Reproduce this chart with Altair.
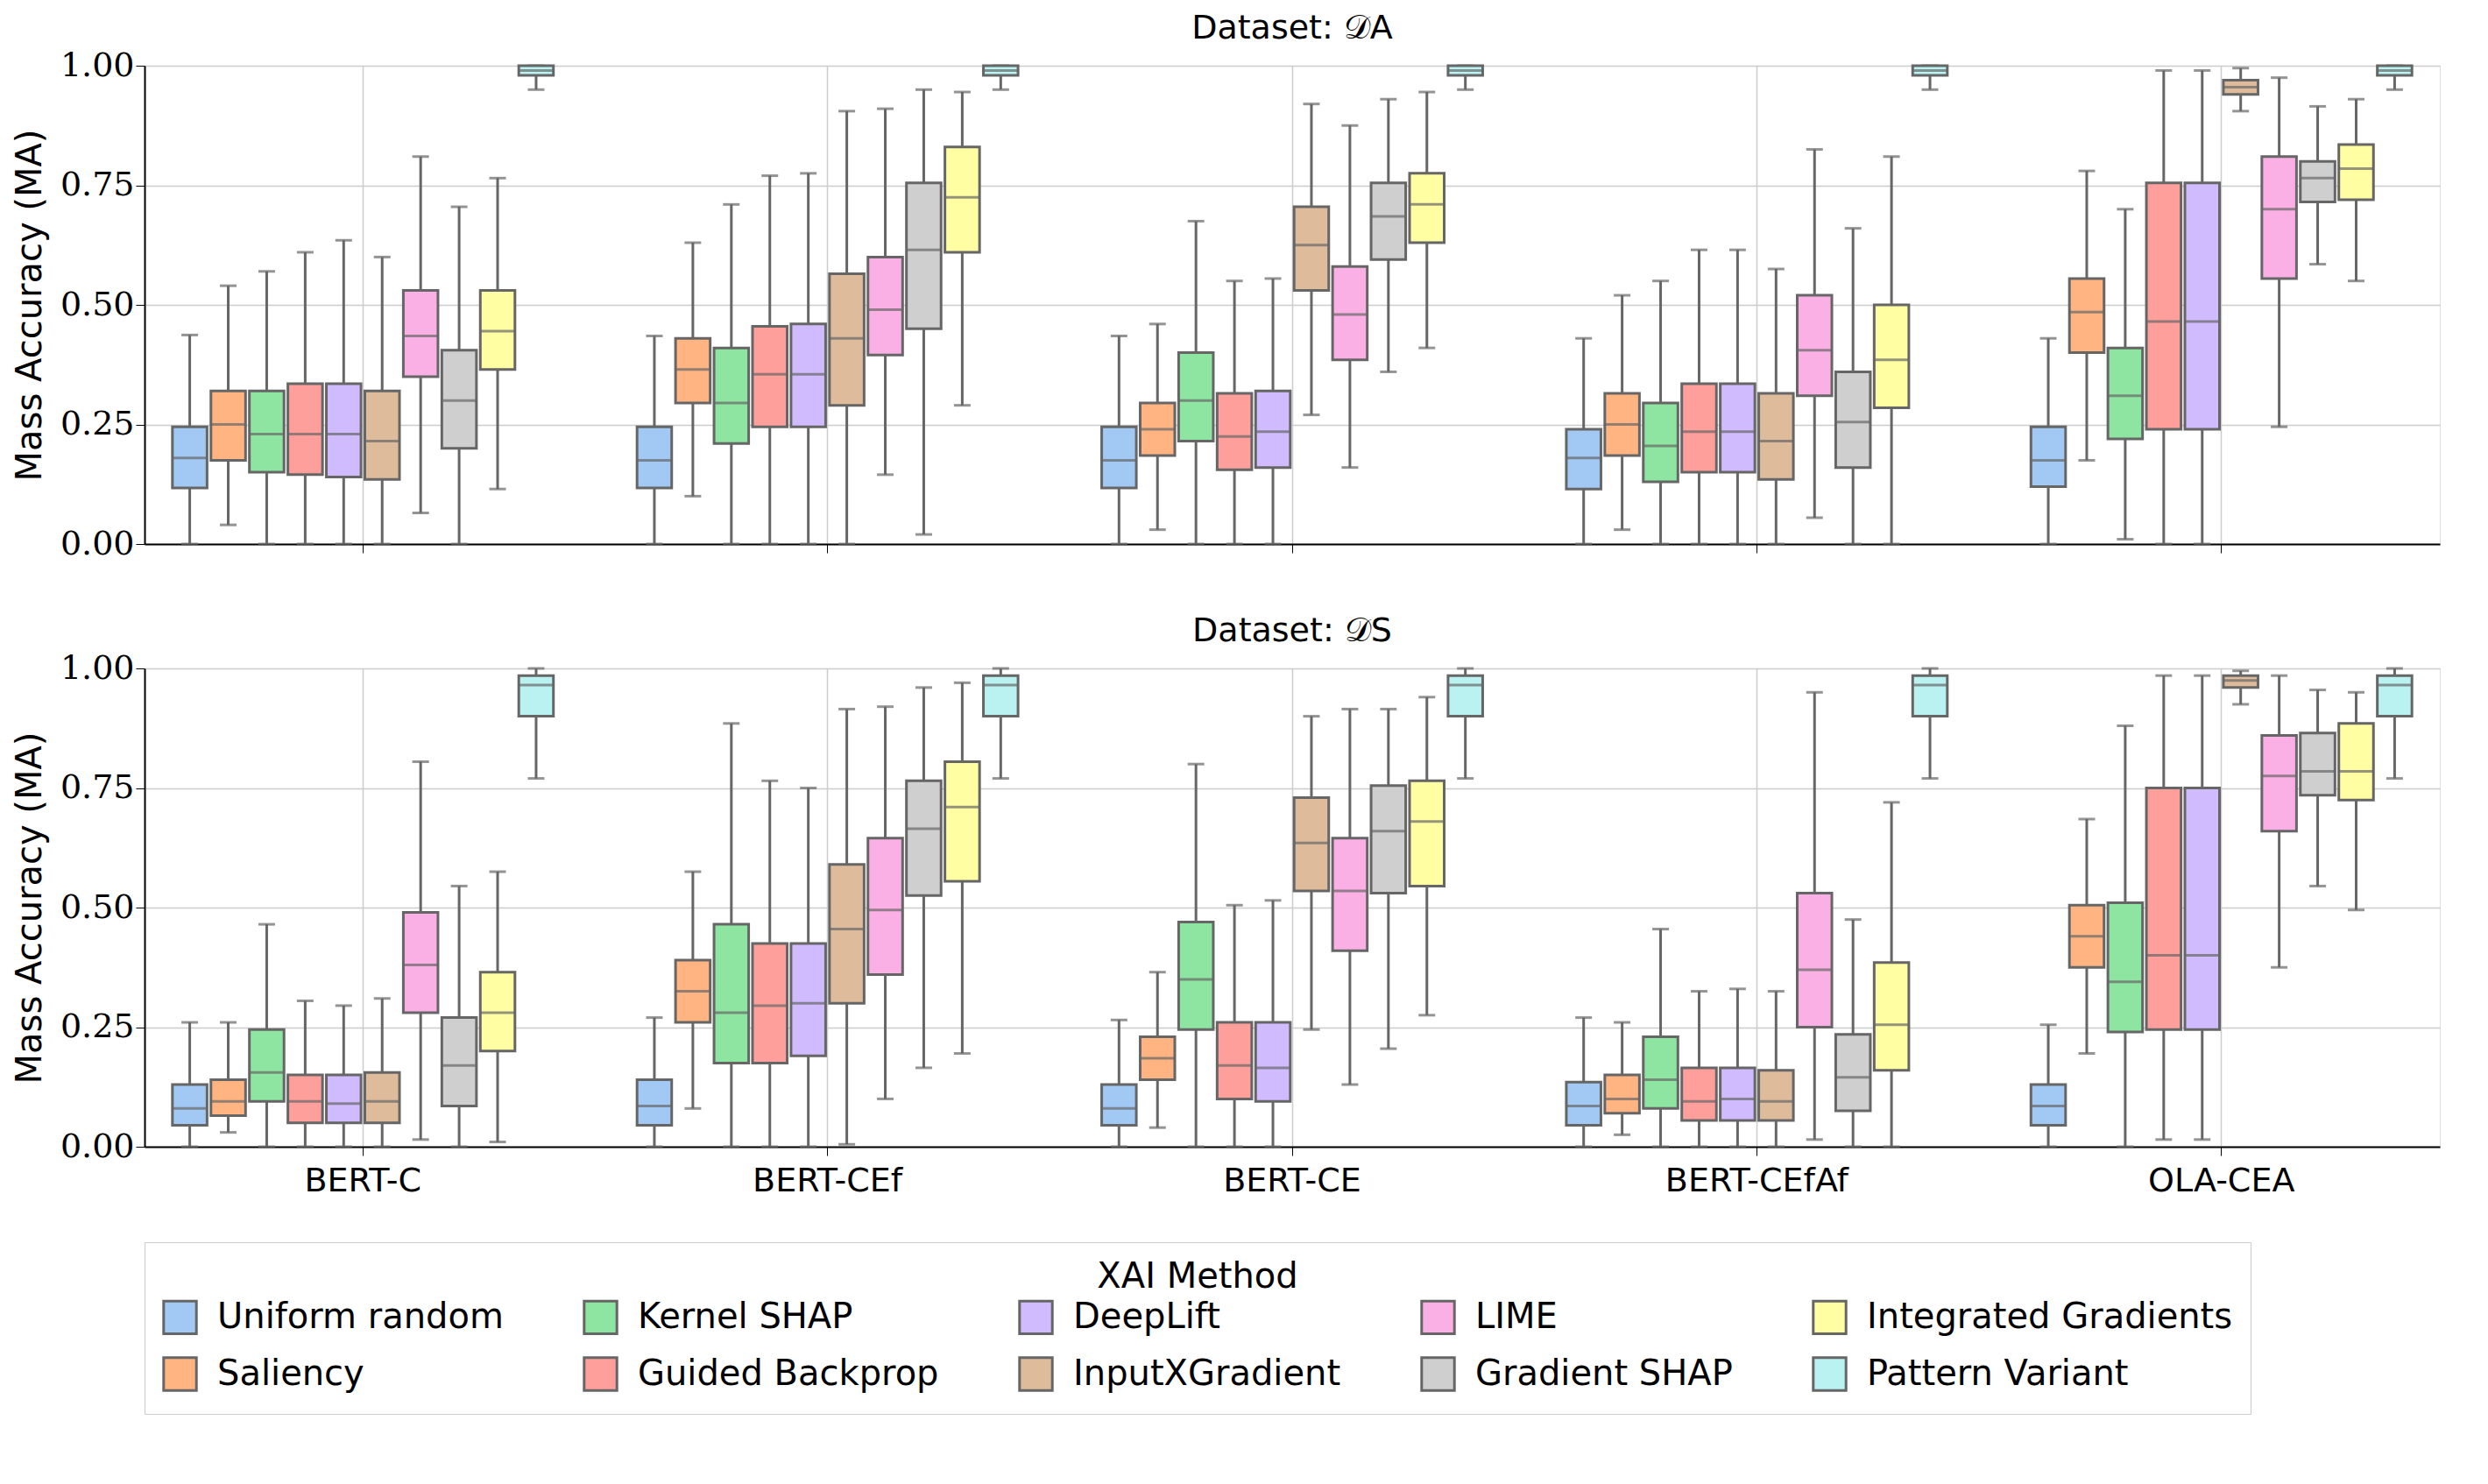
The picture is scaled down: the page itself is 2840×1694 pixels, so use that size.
import altair as alt
import pandas

models = ["BERT-C", "BERT-CEf", "BERT-CE", "BERT-CEfAf", "OLA-CEA"]
methods = ["Uniform random", "Saliency", "Kernel SHAP", "Guided Backprop", "DeepLift",
           "InputXGradient", "LIME", "Gradient SHAP", "Integrated Gradients", "Pattern Variant"]
colors = ["#a1c9f4", "#ffb482", "#8de5a1", "#ff9f9b", "#d0bbff",
          "#debb9b", "#fab0e4", "#cfcfcf", "#fffea3", "#b9f2f0"]

# (min, q1, median, q3, max) per method, per model
stats_a = {
    "BERT-C": [(0, .117, .18, .245, .437), (.04, .175, .25, .32, .54), (0, .15, .23, .32, .57),
               (0, .145, .23, .335, .61), (0, .14, .23, .335, .635), (0, .135, .215, .32, .60),
               (.065, .35, .435, .53, .81), (0, .20, .30, .405, .705), (.115, .365, .445, .53, .765),
               (.95, .98, .99, 1.0, 1.0)],
    "BERT-CEf": [(0, .117, .175, .245, .435), (.10, .295, .365, .43, .63), (0, .21, .295, .41, .71),
                 (0, .245, .355, .455, .77), (0, .245, .355, .46, .775), (0, .29, .43, .565, .905),
                 (.145, .395, .49, .60, .91), (.02, .45, .615, .755, .95), (.29, .61, .725, .83, .945),
                 (.95, .98, .99, 1.0, 1.0)],
    "BERT-CE": [(0, .117, .175, .245, .435), (.03, .185, .24, .295, .46), (0, .215, .30, .40, .675),
                (0, .155, .225, .315, .55), (0, .16, .235, .32, .555), (.27, .53, .625, .705, .92),
                (.16, .385, .48, .58, .875), (.36, .595, .685, .755, .93), (.41, .63, .71, .775, .945),
                (.95, .98, .99, 1.0, 1.0)],
    "BERT-CEfAf": [(0, .115, .18, .24, .43), (.03, .185, .25, .315, .52), (0, .13, .205, .295, .55),
                   (0, .15, .235, .335, .615), (0, .15, .235, .335, .615), (0, .135, .215, .315, .575),
                   (.055, .31, .405, .52, .825), (0, .16, .255, .36, .66), (0, .285, .385, .50, .81),
                   (.95, .98, .99, 1.0, 1.0)],
    "OLA-CEA": [(0, .12, .175, .245, .43), (.175, .40, .485, .555, .78), (.01, .22, .31, .41, .70),
                (0, .24, .465, .755, .99), (0, .24, .465, .755, .99), (.905, .94, .955, .97, .995),
                (.245, .555, .70, .81, .975), (.585, .715, .765, .80, .915), (.55, .72, .785, .835, .93),
                (.95, .98, .99, 1.0, 1.0)],
}
stats_s = {
    "BERT-C": [(0, .045, .08, .13, .26), (.03, .065, .095, .14, .26), (0, .095, .155, .245, .465),
               (0, .05, .095, .15, .305), (0, .05, .09, .15, .295), (0, .05, .095, .155, .31),
               (.015, .28, .38, .49, .805), (0, .085, .17, .27, .545), (.01, .20, .28, .365, .575),
               (.77, .90, .965, .985, 1.0)],
    "BERT-CEf": [(0, .045, .085, .14, .27), (.08, .26, .325, .39, .575), (0, .175, .28, .465, .885),
                 (0, .175, .295, .425, .765), (0, .19, .30, .425, .75), (.005, .30, .455, .59, .915),
                 (.10, .36, .495, .645, .92), (.165, .525, .665, .765, .96), (.195, .555, .71, .805, .97),
                 (.77, .90, .965, .985, 1.0)],
    "BERT-CE": [(0, .045, .08, .13, .265), (.04, .14, .185, .23, .365), (0, .245, .35, .47, .80),
                (0, .10, .17, .26, .505), (0, .095, .165, .26, .515), (.245, .535, .635, .73, .90),
                (.13, .41, .535, .645, .915), (.205, .53, .66, .755, .915), (.275, .545, .68, .765, .94),
                (.77, .90, .965, .985, 1.0)],
    "BERT-CEfAf": [(0, .045, .085, .135, .27), (.025, .07, .10, .15, .26), (0, .08, .14, .23, .455),
                   (0, .055, .095, .165, .325), (0, .055, .10, .165, .33), (0, .055, .095, .16, .325),
                   (.015, .25, .37, .53, .95), (0, .075, .145, .235, .475), (0, .16, .255, .385, .72),
                   (.77, .90, .965, .985, 1.0)],
    "OLA-CEA": [(0, .045, .085, .13, .255), (.195, .375, .44, .505, .685), (0, .24, .345, .51, .88),
                (.015, .245, .40, .75, .985), (.015, .245, .40, .75, .985), (.925, .96, .975, .985, .995),
                (.375, .66, .775, .86, .985), (.545, .735, .785, .865, .955), (.495, .725, .785, .885, .95),
                (.77, .90, .965, .985, 1.0)],
}

# legend fills row by row; reference fills column by column
legend_order = [methods[i] for i in (0, 2, 4, 6, 8, 1, 3, 5, 7, 9)]
legend_colors = [colors[i] for i in (0, 2, 4, 6, 8, 1, 3, 5, 7, 9)]

EDGE = "#666666"


def to_df(stats):
    rows = []
    for m in models:
        for meth, (lo, q1, med, q3, hi) in zip(methods, stats[m]):
            rows.append(dict(model=m, method=meth, lo=lo, q1=q1, med=med, q3=q3, hi=hi))
    return pandas.DataFrame(rows)


def panel(stats, title, show_labels):
    df = to_df(stats)
    x = alt.X("model:N", sort=models, title=None,
              scale=alt.Scale(paddingInner=0.18, paddingOuter=0.06),
              axis=alt.Axis(labels=show_labels, labelFontSize=38, labelAngle=0, labelLimit=600,
                            labelFont="DejaVu Sans", labelColor="black", labelPadding=10,
                            tickColor="black", tickSize=10, domainColor="black",
                            domainWidth=2, grid=True, gridColor="#cccccc", gridWidth=1.5))
    xo = alt.XOffset("method:N", sort=methods, scale=alt.Scale(paddingInner=0.1))
    y = alt.Y("lo:Q", title="Mass Accuracy (MA)",
              scale=alt.Scale(domain=[0, 1], nice=False),
              axis=alt.Axis(values=[0, .25, .5, .75, 1], format=".2f", labelFontSize=38,
                            labelFont="DejaVu Serif", labelColor="black", titleFontSize=40,
                            titleFont="DejaVu Sans", titleFontWeight="normal", titleColor="black",
                            tickColor="black", tickSize=10, domainColor="black", domainWidth=2,
                            gridColor="#cccccc", gridWidth=1.5, titlePadding=14))
    base = alt.Chart(df).encode(x=x, xOffset=xo)
    whisker = base.mark_rule(color=EDGE, strokeWidth=3).encode(y=y, y2="hi:Q")
    caps_lo = base.mark_tick(color=EDGE, size=19, thickness=3).encode(y="lo:Q")
    caps_hi = base.mark_tick(color=EDGE, size=19, thickness=3).encode(y="hi:Q")
    box = base.mark_bar(stroke=EDGE, strokeWidth=3).encode(
        y="q1:Q", y2="q3:Q",
        fill=alt.Fill("method:N", scale=alt.Scale(domain=legend_order, range=legend_colors),
                      legend=alt.Legend(title="XAI Method", orient="bottom", columns=5,
                                        direction="horizontal", titleAnchor="middle",
                                        titleFontSize=40, titleFontWeight="normal",
                                        titleFont="DejaVu Sans", titleLimit=1000,
                                        labelFontSize=40, labelOffset=22,
                                        labelFont="DejaVu Sans", symbolType="square",
                                        symbolSize=1400, symbolStrokeColor=EDGE,
                                        symbolStrokeWidth=3, columnPadding=85, rowPadding=14,
                                        strokeColor="#cccccc", padding=20, offset=50,
                                        labelLimit=600)))
    median = base.mark_tick(color=EDGE, size=38, thickness=3).encode(y="med:Q")
    return alt.layer(whisker, caps_lo, caps_hi, box, median).properties(
        width=2620, height=546,
        title=alt.TitleParams(title, fontSize=38, font="DejaVu Sans", fontWeight="normal"))


chart = alt.vconcat(
    panel(stats_a, "Dataset: 𝒟A", False),
    panel(stats_s, "Dataset: 𝒟S", True),
    spacing=60,
).configure_view(stroke=None).configure(padding=5)

chart.save("out.html", embed_options={"renderer": "svg", "actions": False})
